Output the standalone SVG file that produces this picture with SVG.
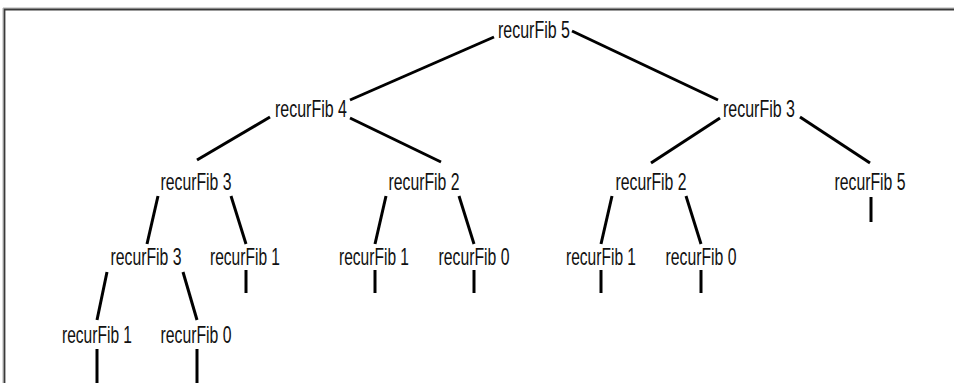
<svg xmlns="http://www.w3.org/2000/svg" width="954" height="383" viewBox="0 0 954 383">
<style>
.c line{stroke:#000;stroke-width:3;stroke-linecap:butt}
.t{font-family:"Liberation Sans Narrow","Liberation Sans",Arial,sans-serif;font-size:24px;fill:#111;text-anchor:middle}
</style>
<rect width="954" height="383" fill="#fff"/>
<g id="frame">
<path d="M3,383 V8 H954" fill="none" stroke="#b0b0b0" stroke-width="1"/>
<path d="M4.5,383 V9.5 H954" fill="none" stroke="#3a3a3a" stroke-width="1.8"/>
</g>
<g class="c" id="connectors">
<line x1="494" y1="37" x2="350" y2="100"/>
<line x1="572" y1="31" x2="718" y2="100"/>
<line x1="270" y1="117" x2="197" y2="160"/>
<line x1="350" y1="118" x2="441" y2="162"/>
<line x1="720" y1="118" x2="651" y2="163"/>
<line x1="800" y1="117" x2="870" y2="163"/>
<line x1="158" y1="196" x2="147" y2="244"/>
<line x1="231" y1="196" x2="246" y2="244"/>
<line x1="386" y1="196" x2="375" y2="244"/>
<line x1="459" y1="196" x2="474" y2="244"/>
<line x1="612" y1="196" x2="601" y2="244"/>
<line x1="686" y1="196" x2="701" y2="244"/>
<line x1="871" y1="197" x2="871" y2="222"/>
<line x1="107" y1="272" x2="97" y2="320"/>
<line x1="183" y1="272" x2="197" y2="320"/>
<line x1="246" y1="270" x2="246" y2="293"/>
<line x1="375" y1="270" x2="375" y2="293"/>
<line x1="474" y1="270" x2="474" y2="293"/>
<line x1="601" y1="270" x2="601" y2="293"/>
<line x1="701" y1="270" x2="701" y2="293"/>
<line x1="97" y1="349" x2="97" y2="383"/>
<line x1="197" y1="349" x2="197" y2="383"/>
</g>
<g id="n1"><text class="t" x="534" y="38" textLength="72" lengthAdjust="spacingAndGlyphs">recurFib 5</text></g>
<g id="n2"><text class="t" x="311" y="117" textLength="72" lengthAdjust="spacingAndGlyphs">recurFib 4</text></g>
<g id="n3"><text class="t" x="759" y="117" textLength="72" lengthAdjust="spacingAndGlyphs">recurFib 3</text></g>
<g id="n4"><text class="t" x="196" y="190" textLength="71" lengthAdjust="spacingAndGlyphs">recurFib 3</text></g>
<g id="n5"><text class="t" x="424" y="190" textLength="71" lengthAdjust="spacingAndGlyphs">recurFib 2</text></g>
<g id="n6"><text class="t" x="651" y="190" textLength="71" lengthAdjust="spacingAndGlyphs">recurFib 2</text></g>
<g id="n7"><text class="t" x="870" y="190" textLength="71" lengthAdjust="spacingAndGlyphs">recurFib 5</text></g>
<g id="n8"><text class="t" x="146" y="265" textLength="71" lengthAdjust="spacingAndGlyphs">recurFib 3</text></g>
<g id="n9"><text class="t" x="245" y="265" textLength="70" lengthAdjust="spacingAndGlyphs">recurFib 1</text></g>
<g id="n10"><text class="t" x="374" y="265" textLength="70" lengthAdjust="spacingAndGlyphs">recurFib 1</text></g>
<g id="n11"><text class="t" x="474" y="265" textLength="71" lengthAdjust="spacingAndGlyphs">recurFib 0</text></g>
<g id="n12"><text class="t" x="601" y="265" textLength="70" lengthAdjust="spacingAndGlyphs">recurFib 1</text></g>
<g id="n13"><text class="t" x="701" y="265" textLength="71" lengthAdjust="spacingAndGlyphs">recurFib 0</text></g>
<g id="n14"><text class="t" x="97" y="343" textLength="70" lengthAdjust="spacingAndGlyphs">recurFib 1</text></g>
<g id="n15"><text class="t" x="196" y="343" textLength="71" lengthAdjust="spacingAndGlyphs">recurFib 0</text></g>
</svg>
